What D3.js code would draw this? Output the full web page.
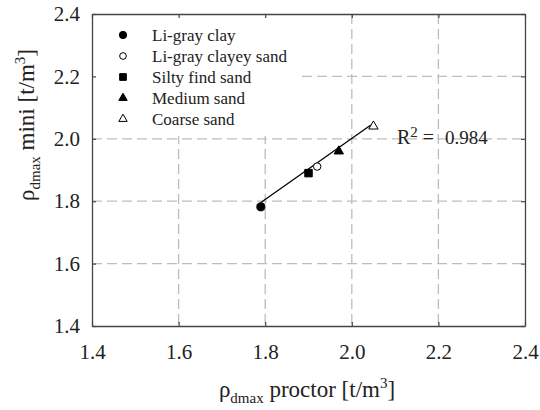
<!DOCTYPE html>
<html>
<head>
<meta charset="utf-8">
<script src="https://cdn.jsdelivr.net/npm/d3@7"></script>
<style>
  body { margin: 0; background: #fff; }
  svg text { font-family: 'Liberation Serif', Tinos, 'Times New Roman', Times, 'DejaVu Serif', serif; fill: #222; }
</style>
</head>
<body>
<div id="chart"></div>
<script>
// data
var soils = ["Li-gray clay", "Li-gray clayey sand", "Silty find sand", "Medium sand", "Coarse sand"];
var proctor = [1.79, 1.92, 1.90, 1.97, 2.05];
var mini = [1.782, 1.911, 1.890, 1.960, 2.040];
var markers = ["circle", "openCircle", "square", "triangle", "openTriangle"];
var fitX = [1.79, 2.044];
var fitY = [1.796, 2.044];
var ticks = [1.4, 1.6, 1.8, 2.0, 2.2, 2.4];
var r2 = "0.984";

var width = 540, height = 410;
var margin = {top: 14, right: 15, bottom: 84, left: 92};

var x = d3.scaleLinear().domain([1.4, 2.4]).range([margin.left, width - margin.right]);
var y = d3.scaleLinear().domain([1.4, 2.4]).range([height - margin.bottom, margin.top]);

var svg = d3.select("#chart").append("svg")
    .attr("width", width)
    .attr("height", height);

// grid lines
var grid = svg.append("g")
    .attr("stroke", "#bdbdbd")
    .attr("stroke-width", 1.3)
    .attr("stroke-dasharray", "10,5");
grid.selectAll(".gx").data(ticks.slice(1, -1)).enter().append("line")
    .attr("x1", function(d) { return x(d); })
    .attr("x2", function(d) { return x(d); })
    .attr("y1", y(2.4))
    .attr("y2", y(1.4));
grid.selectAll(".gy").data(ticks.slice(1, -1)).enter().append("line")
    .attr("x1", x(1.4))
    .attr("x2", x(2.4))
    .attr("y1", function(d) { return y(d); })
    .attr("y2", function(d) { return y(d); });

// legend box hides the grid behind it
svg.append("rect")
    .attr("x", x(1.4) + 1)
    .attr("y", y(2.4) + 1)
    .attr("width", 204)
    .attr("height", 121)
    .attr("fill", "#fff");

// axes, ticks pointing inward
function styleAxis(g) {
  g.attr("font-family", null);
  g.select(".domain").attr("stroke", "#444").attr("stroke-width", 1.3);
  g.selectAll(".tick line").attr("stroke", "#444").attr("stroke-width", 1.2);
  g.selectAll("text").attr("font-size", 21).attr("fill", "#222");
}
svg.append("g")
    .attr("transform", "translate(0," + y(1.4) + ")")
    .call(d3.axisBottom(x).tickValues(ticks).tickSizeInner(-4).tickSizeOuter(0).tickPadding(18)
      .tickFormat(d3.format(".1f")))
    .call(styleAxis);
svg.append("g")
    .attr("transform", "translate(" + x(1.4) + ",0)")
    .call(d3.axisLeft(y).tickValues(ticks).tickSizeInner(-4).tickSizeOuter(0).tickPadding(12)
      .tickFormat(d3.format(".1f")))
    .call(styleAxis);
svg.append("g")
    .attr("transform", "translate(0," + y(2.4) + ")")
    .call(d3.axisTop(x).tickValues(ticks).tickSizeInner(-4).tickSizeOuter(0).tickFormat(""))
    .call(styleAxis);
svg.append("g")
    .attr("transform", "translate(" + x(2.4) + ",0)")
    .call(d3.axisRight(y).tickValues(ticks).tickSizeInner(-4).tickSizeOuter(0).tickFormat(""))
    .call(styleAxis);

// fitted line
svg.append("line")
    .attr("x1", x(fitX[0])).attr("y1", y(fitY[0]))
    .attr("x2", x(fitX[1])).attr("y2", y(fitY[1]))
    .attr("stroke", "#000")
    .attr("stroke-width", 1.3);

function drawMarker(sel, kind, big) {
  var s = big ? 1 : 0.8;
  var type = d3.symbolCircle, size = 52 * s, fill = "#000";
  if (kind == "openCircle") { fill = "#fff"; size = 44 * s; }
  if (kind == "square") { type = d3.symbolSquare; size = 56 * s; }
  if (kind == "triangle" || kind == "openTriangle") { type = d3.symbolTriangle; size = 38 * s; }
  if (kind == "openTriangle") fill = "#fff";
  sel.append("path")
    .attr("d", d3.symbol().type(type).size(size))
    .attr("fill", fill)
    .attr("stroke", "#000")
    .attr("stroke-width", 1);
}

// points
proctor.forEach(function(d, i) {
  var g = svg.append("g")
    .attr("transform", "translate(" + x(d) + "," + y(mini[i]) + ")");
  drawMarker(g, markers[i], true);
});

// legend
soils.forEach(function(name, i) {
  var g = svg.append("g")
    .attr("transform", "translate(123," + (35 + i * 21) + ")");
  drawMarker(g, markers[i], false);
  g.append("text")
    .attr("x", 29)
    .attr("dy", "0.35em")
    .attr("font-size", 17)
    .text(name);
});

// R squared label
var rt = svg.append("text")
    .attr("x", 397)
    .attr("y", 144)
    .attr("font-size", 20);
rt.append("tspan").text("R");
rt.append("tspan").attr("font-size", 15).attr("dy", -7).text("2");
rt.append("tspan").attr("dy", 7).text(" =");
svg.append("text")
    .attr("x", 445)
    .attr("y", 144)
    .attr("font-size", 19)
    .text(r2);

// axis titles
var xt = svg.append("text")
    .attr("x", 307)
    .attr("y", 397)
    .attr("text-anchor", "middle")
    .attr("font-size", 23);
xt.append("tspan").text("ρ");
xt.append("tspan").attr("font-size", 15).attr("dy", 6).text("dmax");
xt.append("tspan").attr("dy", -6).text(" proctor [t/m");
xt.append("tspan").attr("font-size", 15).attr("dy", -9).text("3");
xt.append("tspan").attr("dy", 9).text("]");

var yt = svg.append("text")
    .attr("transform", "translate(34,125) rotate(-90)")
    .attr("text-anchor", "middle")
    .attr("font-size", 23);
yt.append("tspan").text("ρ");
yt.append("tspan").attr("font-size", 15).attr("dy", 6).text("dmax");
yt.append("tspan").attr("dy", -6).text(" mini [t/m");
yt.append("tspan").attr("font-size", 15).attr("dy", -9).text("3");
yt.append("tspan").attr("dy", 9).text("]");
</script>
</body>
</html>
